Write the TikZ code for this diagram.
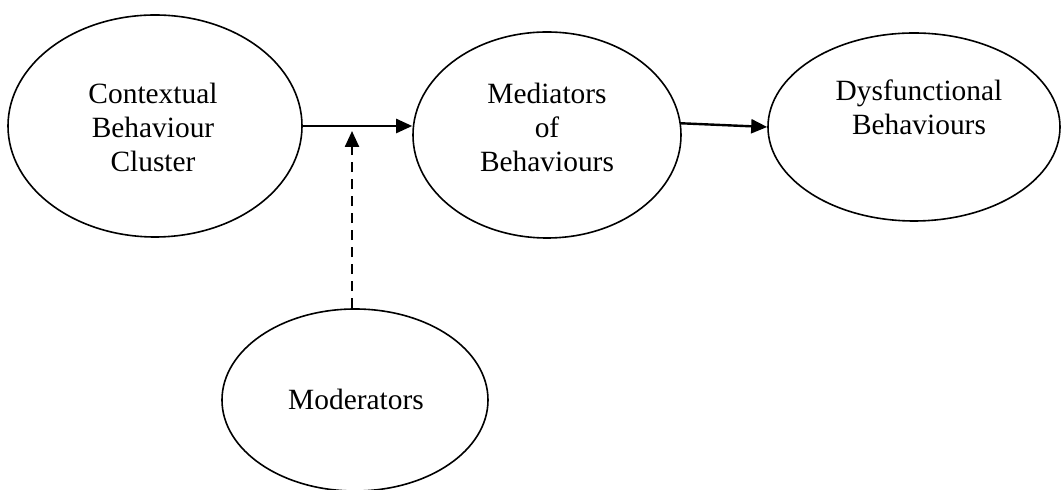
\documentclass[tikz,border=0pt]{standalone}
\usepackage{fontspec}
\setmainfont{Liberation Serif}
\usetikzlibrary{shapes.geometric,arrows.meta}
\begin{document}
\begin{tikzpicture}[x=0.5pt,y=-0.5pt,
  oval/.style={draw,ellipse,line width=0.8pt,inner sep=0pt},
  lbl/.style={align=center,font=\fontsize{14.7pt}{17pt}\selectfont,inner sep=0pt},
  flow/.style={line width=1.2pt,-{Triangle[length=8pt,width=7pt]}}]
\useasboundingbox (0,0) rectangle (1061,490);
\clip (0,0) rectangle (1061,490);
% ellipses (sizes in pt; one unit is 0.5pt)
\node[oval,minimum width=147pt,minimum height=111pt] (ctx) at (155,126) {};
\node[oval,minimum width=134pt,minimum height=103pt] (med) at (547,135) {};
\node[oval,minimum width=146pt,minimum height=94pt] (dys) at (914,127) {};
\node[oval,minimum width=133pt,minimum height=91pt] (mod) at (355,400) {};
% labels
\node[lbl] (tctx) at (153,127) {Contextual\\Behaviour\\ Cluster};
\node[lbl] (tmed) at (547,127) {Mediators\\of\\Behaviours};
\node[lbl] (tdys) at (919,107) {Dysfunctional\\Behaviours};
\node[lbl] (tmod) at (356,399) {Moderators};
% connectors
\coordinate (mid) at (352,131);
\draw[flow] (ctx.east) -- (ctx.east -| med.west);
\draw[flow] (med.5) -- (dys.west);
\draw[flow,dash pattern=on 5pt off 3.5pt] (mod.north -| mid) -- (mid);
\end{tikzpicture}
\end{document}
